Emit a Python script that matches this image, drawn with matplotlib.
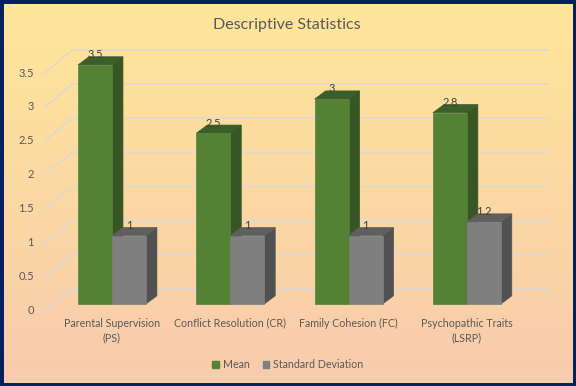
import numpy as np
import matplotlib
matplotlib.use("Agg")
import matplotlib.pyplot as plt
from matplotlib.patches import Polygon, Rectangle

# data
categories = ["Parental Supervision\n(PS)", "Conflict Resolution (CR)",
              "Family Cohesion (FC)", "Psychopathic Traits\n(LSRP)"]
mean_vals = [3.5, 2.5, 3.0, 2.8]
sd_vals = [1, 1, 1, 1.2]
mean_labels = ["3.5", "2.5", "3", "2.8"]
sd_labels = ["1", "1", "1", "1.2"]
yticks = [0, 0.5, 1, 1.5, 2, 2.5, 3, 3.5]
ytick_labels = ["0", "0.5", "1", "1.5", "2", "2.5", "3", "3.5"]

plt.rcParams['font.family'] = ['Lato', 'DejaVu Sans']
txt_col = "#595959"

fig = plt.figure(figsize=(5.76, 3.86), dpi=100)

# background gradient + border
bg = fig.add_axes([0, 0, 1, 1])
grad = np.linspace(0, 1, 256).reshape(-1, 1)
top = np.array([255, 230, 153]) / 255
bot = np.array([248, 203, 173]) / 255
img = top + (bot - top) * grad[:, :, None]
bg.imshow(img, aspect="auto", extent=[0, 1, 0, 1])
bg.add_patch(Rectangle((0, 0), 1, 1, transform=bg.transAxes, fill=False,
                       edgecolor="#002060", linewidth=5))
bg.set_axis_off()

ax = fig.add_axes([45 / 576, 1 - 310 / 386, 503 / 576, 260 / 386])
ax.set_facecolor("none")
ax.set_xlim(-0.566, 3.686)
ax.set_ylim(-0.088, 3.719)
ax.set_axis_off()

# 3d offsets (data units)
wall_dx, wall_dy = 0.228, 0.22
front_y = -0.088
bar_w = 0.287
bdx, bdy = 0.093, 0.12

# back wall gridlines with the slanted left part
for v, lab in zip(yticks, ytick_labels):
    yf = v * 0.991 + front_y
    ax.plot([-0.566, -0.566 + wall_dx, 3.686], [yf, v + wall_dy, v + wall_dy],
            color="#D9D9D9", lw=1, zorder=1, clip_on=False)
    ax.text(-0.66, yf, lab, ha="right", va="center", fontsize=8, color=txt_col)

x = np.arange(len(categories))


def box3d(left, h, front, side, topc, z):
    ax.bar(left, h, width=bar_w, align="edge", color=front,
           edgecolor=front, linewidth=0.5, zorder=z + 0.2)
    r = left + bar_w
    ax.add_patch(Polygon([(r, 0), (r + bdx, bdy), (r + bdx, h + bdy), (r, h)],
                         closed=True, facecolor=side, edgecolor=side, lw=0.5, zorder=z))
    ax.add_patch(Polygon([(left, h), (r, h), (r + bdx, h + bdy), (left + bdx, h + bdy)],
                         closed=True, facecolor=topc, edgecolor=topc, lw=0.5, zorder=z))


for i in x:
    box3d(i - bar_w, mean_vals[i], "#548235", "#375623", "#3B5E2A", 2)
    box3d(i, sd_vals[i], "#7F7F7F", "#515151", "#5F5F5F", 4)
    ax.text(i - bar_w / 2, mean_vals[i] + bdy + 0.03, mean_labels[i],
            ha="center", va="center", fontsize=8, color="#404040", zorder=6)
    ax.text(i + bar_w / 2, sd_vals[i] + bdy + 0.03, sd_labels[i],
            ha="center", va="center", fontsize=8, color="#404040", zorder=6)
    ax.text(i, -0.2, categories[i], ha="center", va="top", fontsize=7.7,
            color=txt_col, linespacing=1.45)

fig.text(287 / 576, 1 - 25 / 386, "Descriptive Statistics", ha="center",
         va="center", fontsize=11.5, color=txt_col)

h1 = Rectangle((0, 0), 1, 1, color="#548235")
h2 = Rectangle((0, 0), 1, 1, color="#7F7F7F")
fig.legend([h1, h2], ["Mean", "Standard Deviation"], loc="center",
           bbox_to_anchor=(288 / 576, 1 - 365 / 386), ncol=2, frameon=False,
           fontsize=7.7, labelcolor=txt_col, handlelength=0.6, handleheight=0.6,
           handletextpad=0.4, columnspacing=1.2)

fig.savefig("out.png", dpi=100)
